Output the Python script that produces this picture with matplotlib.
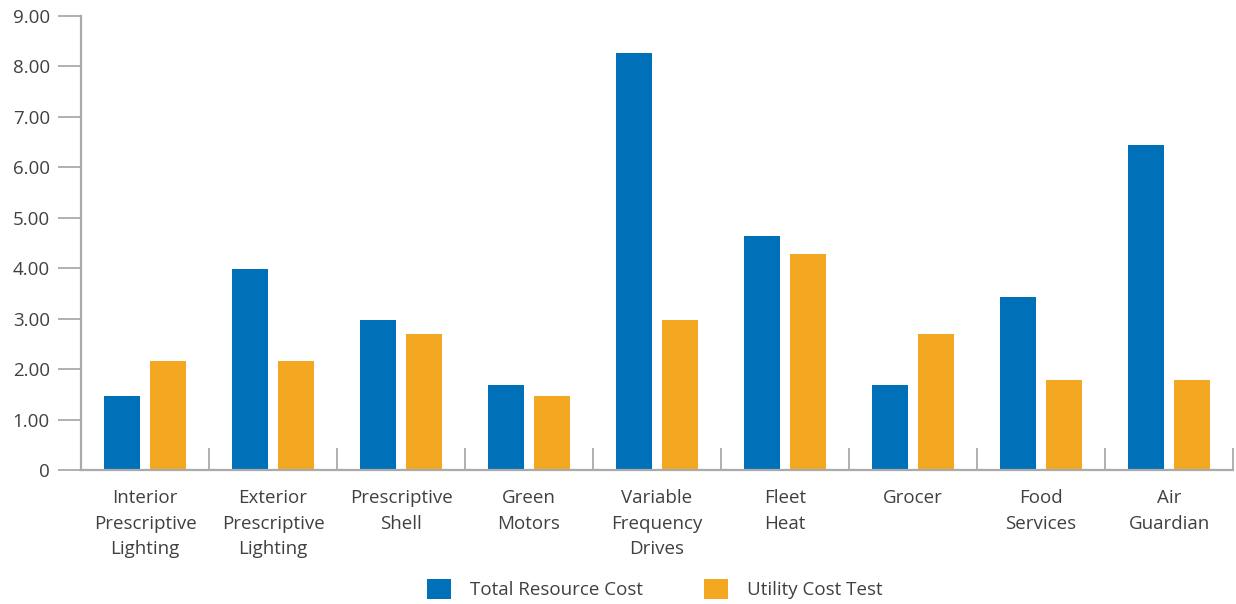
import matplotlib
matplotlib.use("Agg")
import matplotlib.pyplot as plt
from matplotlib.patches import Patch
import numpy as np

categories = [
    "Interior\nPrescriptive\nLighting",
    "Exterior\nPrescriptive\nLighting",
    "Prescriptive\nShell",
    "Green\nMotors",
    "Variable\nFrequency\nDrives",
    "Fleet\nHeat",
    "Grocer",
    "Food\nServices",
    "Air\nGuardian",
]
total_resource_cost = [1.47, 3.99, 2.98, 1.69, 8.26, 4.63, 1.69, 3.42, 6.45]
utility_cost_test = [2.17, 2.17, 2.70, 1.47, 2.98, 4.29, 2.70, 1.79, 1.79]
y_ticks = [0, 1, 2, 3, 4, 5, 6, 7, 8, 9]
y_tick_labels = ["0", "1.00", "2.00", "3.00", "4.00", "5.00", "6.00", "7.00", "8.00", "9.00"]

BLUE = "#0070B9"
ORANGE = "#F4A822"
AXIS = "#AAAAAA"
TEXT = "#404040"

plt.rcParams["font.family"] = ["Open Sans", "DejaVu Sans"]

fig = plt.figure(figsize=(12.36, 6.04), dpi=100)
ax = fig.add_axes([81 / 1236, 134 / 604, 1152 / 1236, 454 / 604])

x = np.arange(len(categories))
w = 0.28
off = 0.18
ax.bar(x - off, total_resource_cost, width=w, color=BLUE, zorder=2)
ax.bar(x + off, utility_cost_test, width=w, color=ORANGE, zorder=2)

ax.set_xlim(-0.5, len(categories) - 0.5)
ax.set_ylim(0, 9)

for s in ["top", "right"]:
    ax.spines[s].set_visible(False)
for s in ["left", "bottom"]:
    ax.spines[s].set_color(AXIS)
    ax.spines[s].set_linewidth(1.6)

ax.set_yticks(y_ticks)
ax.set_yticklabels(y_tick_labels)
ax.tick_params(axis="y", length=16.5, width=1.3, color=AXIS, pad=6,
               labelsize=13.5, labelcolor=TEXT)

ax.set_xticks(x)
ax.set_xticklabels(categories, linespacing=1.52)
ax.tick_params(axis="x", which="major", length=0, pad=14,
               labelsize=13.5, labelcolor=TEXT)
ax.set_xticks(np.arange(-0.5, len(categories)), minor=True)
ax.tick_params(axis="x", which="minor", direction="in", length=15.5,
               width=1.3, color=AXIS)

handles = [Patch(facecolor=BLUE, label="Total Resource Cost"),
           Patch(facecolor=ORANGE, label="Utility Cost Test")]
leg = fig.legend(handles=handles, loc="center", bbox_to_anchor=(655 / 1236, 15 / 604),
                 ncol=2, frameon=False, fontsize=13.5, handlelength=1.25,
                 handleheight=1.25, handletextpad=1.05, columnspacing=3.25)
for t in leg.get_texts():
    t.set_color(TEXT)

fig.savefig("out.png", dpi=100)
